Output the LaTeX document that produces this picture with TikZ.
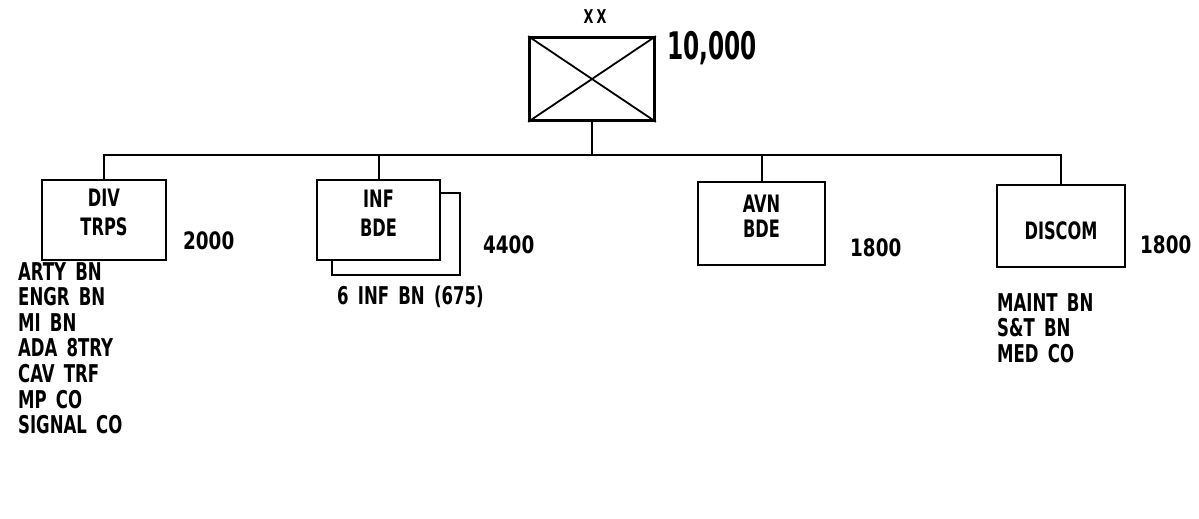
\documentclass[tikz,border=0pt]{standalone}
\usepackage{fontspec}
\setmainfont[FakeStretch=0.75,WordSpace=1.6]{DejaVu Sans Condensed}
\newfontfamily\numfont[FakeStretch=0.85]{DejaVu Sans Condensed}
\newfontfamily\bignumfont[FakeStretch=0.68]{DejaVu Sans Condensed}
\usepackage{tikz}
\usetikzlibrary{positioning}
\tikzset{
    %Define style for unit boxes
    unitbox/.style={
           rectangle,
           draw=black, line width=2.3pt,
           fill=white,
           inner sep=0pt,
           },
    %Define style for text inside the boxes
    boxtext/.style={
           inner sep=0pt,
           align=center,
           font=\bfseries\fontsize{24}{29}\selectfont,
           },
    %Define style for strength figures
    strength/.style={
           anchor=west,
           inner sep=0pt,
           font=\numfont\bfseries\fontsize{24}{24}\selectfont,
           },
    %Define style for lists of sub-units
    sublist/.style={
           anchor=north west,
           inner sep=0pt,
           align=left,
           font=\bfseries\fontsize{24.5}{25.6}\selectfont,
           },
    % Define line style
    link/.style={
           line width=2pt,},
}
\begin{document}
\begin{tikzpicture}[x=1pt,y=-1pt]
\useasboundingbox (0,0) rectangle (1199,519);
% division
\node[unitbox, line width=2.7pt, minimum width=125pt, minimum height=83pt](DIVN) at (592,79){};
\draw[line width=1.8pt] (DIVN.north west) -- (DIVN.south east)
                        (DIVN.south west) -- (DIVN.north east);
\node[inner sep=0pt, font=\bfseries\fontsize{19}{19}\selectfont] (XX) at (595,17){X\,X};
\node[anchor=west, inner sep=0pt, font=\bignumfont\bfseries\fontsize{38}{38}\selectfont] (Dstr) at (667,48){10,000};
% subordinate units
\node[unitbox, minimum width=124pt, minimum height=80pt,
      label={[boxtext, yshift=8pt]center:DIV\\TRPS}](DIV) at (104,220){};
\node[unitbox, minimum width=128pt, minimum height=82pt](INFb) at (396,234){};
\node[unitbox, minimum width=123pt, minimum height=80pt,
      label={[boxtext, yshift=7pt]center:INF\\BDE}](INF) at (378.5,220){};
\node[unitbox, minimum width=127pt, minimum height=83pt,
      label={[boxtext, yshift=7pt, font=\bfseries\fontsize{24}{25}\selectfont]center:AVN\\BDE}](AVN) at (761.5,223.5){};
\node[unitbox, minimum width=128pt, minimum height=82pt,
      label={[boxtext, yshift=-5pt]center:DISCOM}](DISCOM) at (1061,226){};
% strengths
\node[strength](DIVs) at (183,241){2000};
\node[strength](INFs) at (483,245){4400};
\node[strength](AVNs) at (850,248){1800};
\node[strength](DISs) at (1140,245){1800};
% sub-unit lists
\node[sublist](DIVl) at (18,262){ARTY BN\\ENGR BN\\MI BN\\ADA 8TRY\\CAV TRF\\MP CO\\SIGNAL CO};
\node[sublist](INFl) at (337,286){6 INF BN (675)};
\node[sublist](DISl) at (997,293){MAINT BN\\S\&T BN\\MED CO};
% connectors
\coordinate (bus) at (592,155);
\draw[link] (DIVN.south) -- (bus);
\draw[link] (DIV.north) |- (bus) -| (DISCOM.north);
\draw[link] (INF.north) -- (INF.north |- bus);
\draw[link] (AVN.north) -- (AVN.north |- bus);
\end{tikzpicture}
\end{document}
